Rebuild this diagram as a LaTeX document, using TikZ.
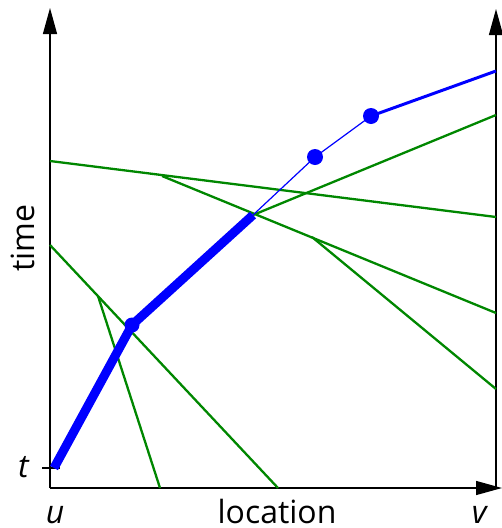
\documentclass[tikz,border=0pt]{standalone}
\usepackage{fontspec}
\setmainfont{Open Sans}
\usepackage{xcolor}
\usetikzlibrary{arrows.meta}
\definecolor{raygreen}{RGB}{0,135,0}

\begin{document}
\begin{tikzpicture}[
  x=1pt, y=-1pt,
  axis/.style={line width=1.3pt, -{Triangle[length=26pt, width=14pt]}},
  ray/.style={line width=2.3pt, raygreen},
  fat/.style={blue, line width=9pt},
  slim/.style={blue, line width=1.2pt},
  mid/.style={blue, line width=3pt},
  dot/.style={circle, fill=blue, inner sep=0pt, minimum size=16pt},
  lab/.style={font=\fontsize{32}{36}\selectfont, inner sep=0pt}
]
\useasboundingbox (0,0) rectangle (502,528);
% axes
\coordinate (o)    at (50,488);
\coordinate (ytop) at (50,8);
\coordinate (xend) at (502,488);
\coordinate (r0)   at (496,488);
\coordinate (rtop) at (496,9);
\draw[axis] (o) -- (ytop);
\draw[axis] (o) -- (xend);
\draw[axis] (r0) -- (rtop);
\coordinate (tl) at (42,468);
\coordinate (tr) at (60,468);
\draw[line width=1.3pt] (tl) -- (tr);
% green rays
\coordinate (a1) at (50,161);
\coordinate (a2) at (496,217);
\coordinate (b1) at (162,176);
\coordinate (b2) at (312,237);
\coordinate (b3) at (496,313);
\coordinate (b4) at (496,389);
\coordinate (c2) at (496,115);
\coordinate (d1) at (50,245);
\coordinate (d2) at (98,296);
\coordinate (d3) at (278,488);
\coordinate (e1) at (160,488);
\coordinate (s0) at (54,468);
\coordinate (p1) at (132,325);
\coordinate (s1) at (253,215);
\coordinate (p2) at (315,157);
\coordinate (p3) at (371,116);
\coordinate (s2) at (496,71);
\draw[ray] (a1) -- (a2);
\draw[ray] (b1) -- (b3);
\draw[ray] (b2) -- (b4);
\draw[ray] (s1) -- (c2);
\draw[ray] (d1) -- (d3);
\draw[ray] (d2) -- (e1);
% blue track
\draw[fat, line join=round] (s0) -- (p1) -- (s1);
\draw[slim] (s1) -- (p2) -- (p3);
\draw[mid] (p3) -- (s2);
\node[dot, minimum size=15pt] (q1) at (p1) {};
\node[dot] (q2) at (p2) {};
\node[dot] (q3) at (p3) {};
% labels
\node[lab] (tlab) at (24,467) {\textit{t}};
\node[lab, anchor=base] (ulab) at (55,523) {\textit{u}};
\node[lab, anchor=base] (vlab) at (480,523) {\textit{v}};
\node[lab, anchor=base] (xlab) at (277,523) {location};
\node[lab, rotate=90] (ylab) at (23,238) {time};
\end{tikzpicture}
\end{document}
